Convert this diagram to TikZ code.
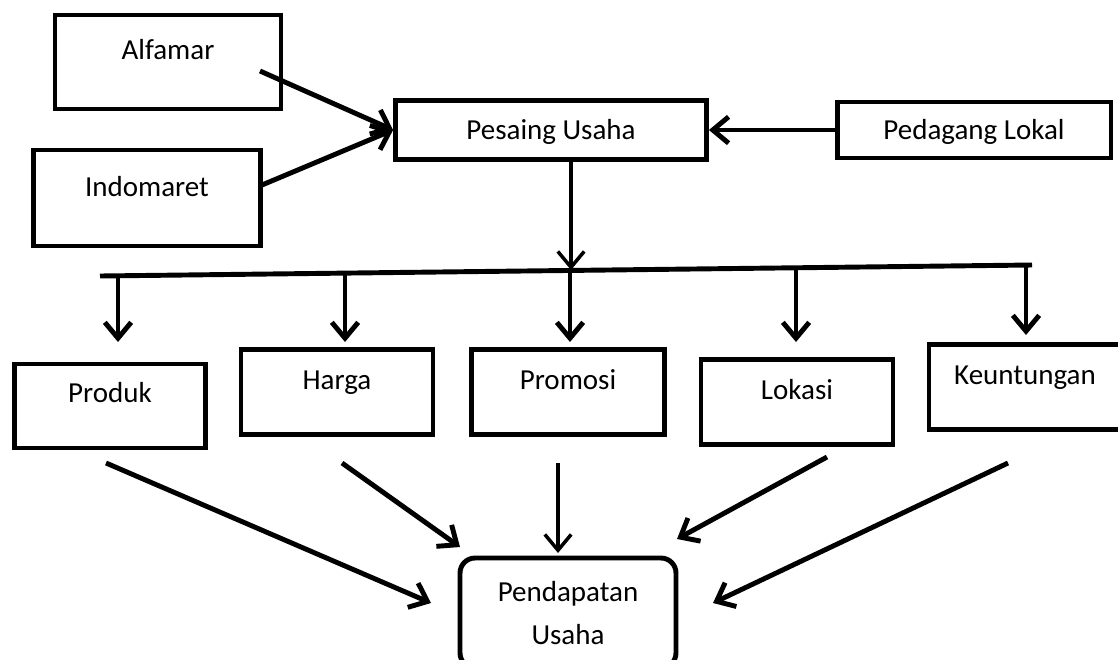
\documentclass[tikz,border=0pt]{standalone}
\usepackage{fontspec}
\setmainfont{Carlito}
\usetikzlibrary{arrows.meta}

\tikzset{
  box/.style={draw, line width=2.8pt, inner sep=0pt, text height=10.6pt, text depth=0pt},
  every label/.style={text height=10.6pt, text depth=0pt},
  link/.style={line width=2.8pt, -{Straight Barb[length=9pt,width=15pt]}},
  thin link/.style={link, line width=2pt},
}

\begin{document}
\begin{tikzpicture}[x=0.02cm, y=-0.02cm, font=\fontsize{16.5pt}{24pt}\selectfont]
	\useasboundingbox (0,0) rectangle (1118,659);
	
	% competitors
	\node (alfa) [box, minimum width=4.52cm, minimum height=1.88cm,
	  label={[yshift=0.24cm]center:Alfamar}] at (168,62) {};
	\node (indo) [box, minimum width=4.54cm, minimum height=1.92cm,
	  label={[yshift=0.22cm]center:Indomaret}] at (147,198) {};
	\node (pesaing) [box, minimum width=6.22cm, minimum height=1.18cm] at (551,130) {Pesaing Usaha};
	\node (pedagang) [box, minimum width=5.48cm, minimum height=1.12cm] at (974,130) {Pedagang Lokal};
	
	% factors
	\node (produk) [box, minimum width=3.82cm, minimum height=1.68cm,
	  label={[yshift=0.26cm]center:Produk}] at (110,406) {};
	\node (harga) [box, minimum width=3.84cm, minimum height=1.7cm,
	  label={[yshift=0.24cm]center:Harga}] at (337,392) {};
	\node (promosi) [box, minimum width=3.86cm, minimum height=1.7cm,
	  label={[yshift=0.24cm]center:Promosi}] at (568,392) {};
	\node (lokasi) [box, minimum width=3.84cm, minimum height=1.7cm,
	  label={[yshift=0.24cm]center:Lokasi}] at (797,402) {};
	\node (untung) [box, minimum width=3.84cm, minimum height=1.7cm,
	  label={[yshift=0.24cm]center:Keuntungan}] at (1025,387) {};
	
	\node (pendapatan) [draw, line width=2.8pt, rounded corners=0.3cm, align=center,
	  minimum width=4.32cm, minimum height=2.2cm] at (568,613) {Pendapatan\\Usaha};
	
	% free ends
	\coordinate (alfa-o) at (260,71);
	\coordinate (indo-o) at (262,185);
	\coordinate (bar-l) at (100,276);
	\coordinate (bar-r) at (1032,265);
	\coordinate (bar-m) at (571,270);
	
	\coordinate (b1) at (118,276);
	\coordinate (b2) at (345,273);
	\coordinate (b3) at (570,270);
	\coordinate (b4) at (796,268);
	\coordinate (b5) at (1026,265);
	\coordinate (t1) at (118,342);
	\coordinate (t2) at (345,342);
	\coordinate (t3) at (570,342);
	\coordinate (t4) at (796,342);
	\coordinate (t5) at (1026,335);
	
	\coordinate (produk-o) at (106,463);
	\coordinate (harga-o) at (342,463);
	\coordinate (promosi-o) at (558,463);
	\coordinate (lokasi-o) at (827,457);
	\coordinate (untung-o) at (1008,463);
	\coordinate (in1) at (431,603);
	\coordinate (in2) at (460,547);
	\coordinate (in3) at (558,553);
	\coordinate (in4) at (677,539);
	\coordinate (in5) at (713,603);
	
	\draw[line width=2.8pt] (bar-l) -- (bar-r);
	
	\path[link]
	(alfa-o) edge (pesaing.west)
	(indo-o) edge (pesaing.west)
	(pedagang.west) edge (pesaing.east)
	(b1) edge (t1)
	(b2) edge (t2)
	(b3) edge (t3)
	(b4) edge (t4)
	(b5) edge (t5)
	(produk-o) edge (in1)
	(harga-o) edge (in2)
	(lokasi-o) edge (in4)
	(untung-o) edge (in5);
	
	\path[thin link]
	(pesaing.south -| bar-m) edge (bar-m)
	(promosi-o) edge (in3);
	
\end{tikzpicture}
\end{document}
